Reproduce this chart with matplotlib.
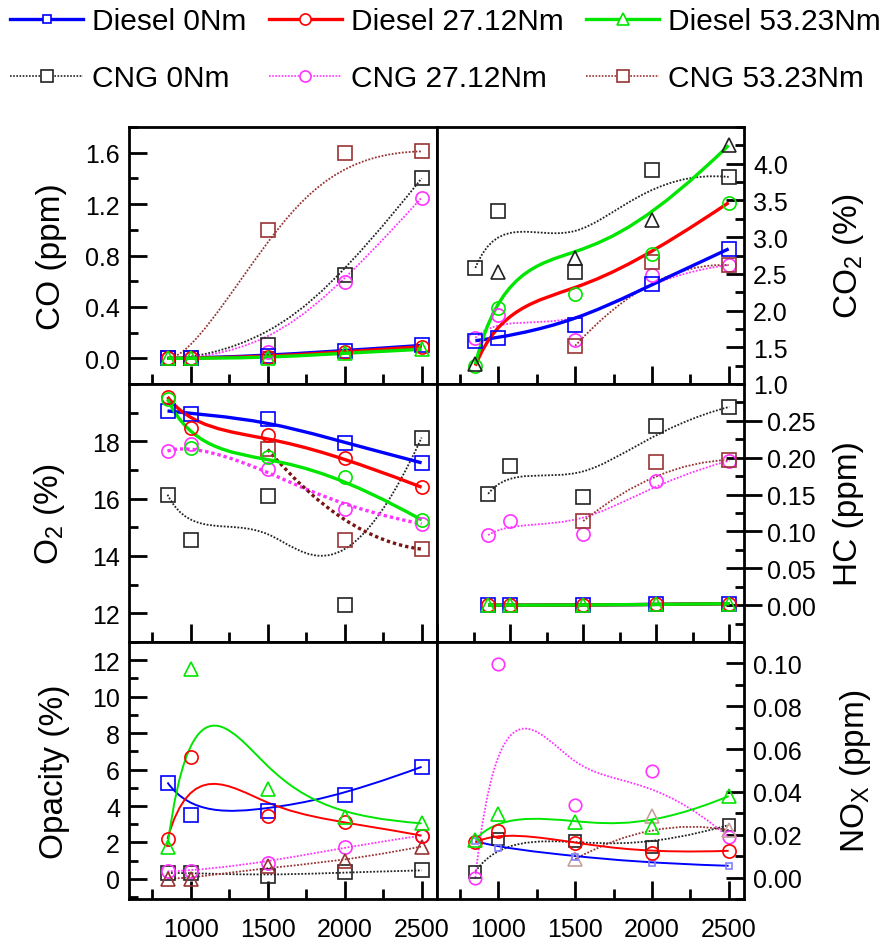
import numpy as np
import matplotlib
matplotlib.use('Agg')
import matplotlib.pyplot as plt
from matplotlib.path import Path
from matplotlib.patches import PathPatch
from matplotlib.lines import Line2D
from matplotlib.ticker import MultipleLocator, FormatStrFormatter

plt.rcParams['font.family'] = 'Liberation Sans'
plt.rcParams['mathtext.fontset'] = 'custom'
plt.rcParams['mathtext.rm'] = 'Liberation Sans'

# engine speed (rpm)
rpm = [850, 1000, 1500, 2000, 2500]
rpm_high = [1500, 2000, 2500]

labels = ['Diesel 0Nm', 'Diesel 27.12Nm', 'Diesel 53.23Nm',
          'CNG 0Nm', 'CNG 27.12Nm', 'CNG 53.23Nm']

# CO (ppm)
co_d0 = [0.0, 0.0, 0.02, 0.06, 0.10]
co_d27 = [0.0, 0.0, 0.01, 0.05, 0.09]
co_d53 = [0.0, 0.0, 0.0, 0.04, 0.07]
co_c0 = [0.0, 0.0, 0.10, 0.65, 1.40]
co_c27 = [0.0, 0.0, 0.05, 0.59, 1.25]
co_c53 = [0.0, 0.0, 1.00, 1.60, 1.61]

# CO2 (%)
co2_d0 = [1.59, 1.63, 1.80, 2.36, 2.84]
co2_d27 = [1.25, 2.03, 2.23, 2.77, 3.47]
co2_d53 = [1.27, 2.53, 2.72, 3.24, 4.25]
co2_c0 = [2.58, 3.36, 2.53, 3.92, 3.82]
co2_c27 = [1.63, 1.94, 1.60, 2.49, 2.62]
co2_c53 = [1.52, 2.66, 2.62]

# O2 (%)
o2_d0 = [19.06, 18.97, 18.79, 17.95, 17.25]
o2_d27 = [19.55, 18.48, 18.21, 17.43, 16.40]
o2_d53 = [19.47, 17.78, 17.46, 16.75, 15.26]
o2_c0 = [16.14, 14.55, 16.11, 12.28, 18.13]
o2_c27 = [17.66, 17.92, 17.04, 15.65, 15.12]
o2_c53 = [17.72, 14.56, 14.24]

# HC (ppm)
hc_d0 = [0.0, 0.0, 0.0, 0.001, 0.002]
hc_d27 = [0.0, 0.0, 0.0, 0.001, 0.002]
hc_d53 = [0.0, 0.0, 0.0, 0.001, 0.002]
hc_c0 = [0.151, 0.189, 0.147, 0.243, 0.269]
hc_c27 = [0.095, 0.114, 0.096, 0.169, 0.196]
hc_c53 = [0.114, 0.194, 0.197]

# Opacity (%)
op_d0 = [5.29, 3.51, 3.73, 4.60, 6.15]
op_d27 = [2.20, 6.69, 3.47, 3.15, 2.38]
op_d53 = [1.78, 11.51, 4.96, 3.38, 3.05]
op_c0 = [0.33, 0.33, 0.15, 0.36, 0.47]
op_c27 = [0.42, 0.44, 0.87, 1.75, 2.38]
op_c53 = [0.02, 0.02, 0.69, 0.96, 1.78]

# NOx (ppm)
nox_d0 = [0.017, 0.014, 0.0098, 0.0067, 0.0055]
nox_d27 = [0.0164, 0.0219, 0.0161, 0.0113, 0.0125]
nox_d53 = [0.0177, 0.0297, 0.0261, 0.0234, 0.038]
nox_c0 = [0.0028, 0.018, 0.0169, 0.0145, 0.0245]
nox_c27 = [0.0, 0.0996, 0.034, 0.0496, 0.0188]
nox_c53 = [0.0086, 0.0286, 0.0222]

BLUE, RED, GREEN = '#0000ff', '#ff0000', '#00e600'
BLACK, MAGENTA, BROWN = '#222222', '#ff33ff', '#993333'
DOT = (0, (1.0, 0.9))


def insert_knot(U, P, u, p):
    k = int(np.searchsorted(U, u, side='right')) - 1
    Q = []
    for i in range(len(P) + 1):
        if i <= k - p:
            Q.append(P[i])
        elif i <= k:
            a = (u - U[i]) / (U[i + p] - U[i])
            Q.append((1 - a) * P[i - 1] + a * P[i])
        else:
            Q.append(P[i - 1])
    return U[:k + 1] + [u] + U[k + 1:], Q


def bspline_path(x, y):
    # clamped B-spline with the points as control points, as Bezier pieces
    P = [np.array(v, dtype=float) for v in zip(x, y)]
    n = len(P)
    if n == 2:
        return Path(P, [Path.MOVETO, Path.LINETO])
    p = min(3, n - 1)
    inner = list(np.linspace(0, 1, n - p + 1)[1:-1])
    U = [0.0] * (p + 1) + inner + [1.0] * (p + 1)
    for u in inner:
        for _ in range(p - 1):
            U, P = insert_knot(U, P, u, p)
    code = Path.CURVE4 if p == 3 else Path.CURVE3
    return Path(P, [Path.MOVETO] + [code] * (len(P) - 1))


def series(ax, x, y, color, ls, lw, marker, mec=None, ms=9.5, z=2):
    ax.add_patch(PathPatch(bspline_path(x, y), fill=False, edgecolor=color,
                           linestyle=ls, linewidth=lw, zorder=z))
    ax.plot(x, y, ls='none', marker=marker, ms=ms, mfc='none',
            mec=mec or color, mew=1.2, zorder=4)


def style(ax, side, ylabel, yticks, ylim, fmt, minor, xlim=(600, 2600),
          xlabels=False, inout=False, labx=-0.2):
    for s in ax.spines.values():
        s.set_linewidth(2)
    ax.set_xlim(*xlim)
    ax.set_ylim(*ylim)
    ax.xaxis.set_major_locator(MultipleLocator(500))
    ax.xaxis.set_minor_locator(MultipleLocator(250))
    ax.set_yticks(yticks)
    ax.yaxis.set_minor_locator(MultipleLocator(minor))
    ax.yaxis.set_major_formatter(FormatStrFormatter(fmt))
    ax.tick_params(axis='x', which='both', direction='in', top=False,
                   bottom=True, width=2, labelbottom=xlabels,
                   labelsize=18, pad=13)
    ax.tick_params(axis='x', which='major', length=13)
    ax.tick_params(axis='x', which='minor', length=7)
    left = side == 'left'
    ax.tick_params(axis='y', which='both', left=left, right=not left,
                   labelleft=left, labelright=not left, width=2,
                   labelsize=18)
    if inout:
        ax.tick_params(axis='y', which='major', direction='inout',
                       length=26, pad=3.5)
    else:
        ax.tick_params(axis='y', which='major', direction='in',
                       length=13, pad=6.5)
    ax.tick_params(axis='y', which='minor', direction='in', length=6.5)
    if not left:
        ax.yaxis.set_label_position('right')
    ax.set_ylabel(ylabel, fontsize=24)
    ax.yaxis.set_label_coords(labx, 0.5)


fig = plt.figure(figsize=(8.89, 9.45), dpi=100)
W, H = 889, 945
cols = [(129, 437), (437, 744)]
rows = [(128, 385), (385, 643), (643, 900)]
axs = [[fig.add_axes([c0 / W, 1 - r1 / H, (c1 - c0) / W, (r1 - r0) / H])
        for (c0, c1) in cols] for (r0, r1) in rows]

thick, thin = 2.4, 1.3

# CO
ax = axs[0][0]
series(ax, rpm, co_c0, BLACK, DOT, thin, 's')
series(ax, rpm, co_c27, MAGENTA, DOT, thin, 'o')
series(ax, rpm, co_c53, BROWN, DOT, thin, 's')
series(ax, rpm, co_d0, BLUE, '-', thick, 's')
series(ax, rpm, co_d27, RED, '-', thick, 'o')
series(ax, rpm, co_d53, GREEN, '-', thick, '^')
style(ax, 'left', 'CO (ppm)', [0.0, 0.4, 0.8, 1.2, 1.6], (-0.2, 1.8),
      '%.1f', 0.2)

# CO2
ax = axs[0][1]
series(ax, rpm, co2_c0, BLACK, DOT, thin, 's')
series(ax, rpm, co2_c27, MAGENTA, DOT, thin, 'o')
series(ax, rpm_high, co2_c53, BROWN, DOT, thin, 's')
series(ax, rpm, co2_d0, BLUE, '-', thick, 's')
series(ax, rpm, co2_d27, RED, '-', thick, 'o', mec=GREEN)
series(ax, rpm, co2_d53, GREEN, '-', thick, '^', mec=BLACK, ms=10.5)
style(ax, 'right', r'CO$_\mathregular{2}$ (%)',
      [1.0, 1.5, 2.0, 2.5, 3.0, 3.5, 4.0], (1.0, 4.5), '%.1f', 0.25,
      labx=1.285)

# O2
ax = axs[1][0]
series(ax, rpm, o2_c0, BLACK, DOT, thin, 's')
series(ax, rpm, o2_c27, MAGENTA, DOT, 2.4, 'o')
series(ax, rpm_high, o2_c53, '#7a1414', DOT, 2.4, 's', mec=BROWN)
series(ax, rpm, o2_d0, BLUE, '-', thick, 's')
series(ax, rpm, o2_d27, RED, '-', thick, 'o')
series(ax, rpm, o2_d53, GREEN, '-', thick, 'o')
style(ax, 'left', r'O$_\mathregular{2}$ (%)', [12, 14, 16, 18], (11, 20),
      '%d', 1)

# HC
ax = axs[1][1]
series(ax, rpm, hc_c0, BLACK, DOT, thin, 's')
series(ax, rpm, hc_c27, MAGENTA, DOT, thin, 'o')
series(ax, rpm_high, hc_c53, BROWN, DOT, thin, 's')
series(ax, rpm, hc_d0, BLUE, '-', thick, 's')
series(ax, rpm, hc_d27, RED, '-', thick, 'o')
series(ax, rpm, hc_d53, GREEN, '-', thick, '^')
style(ax, 'right', 'HC (ppm)', [0.0, 0.05, 0.10, 0.15, 0.20, 0.25],
      (-0.05, 0.30), '%.2f', 0.025, xlim=(500, 2600), inout=True,
      labx=1.29)

# Opacity
ax = axs[2][0]
series(ax, rpm, op_c0, BLACK, DOT, thin, 's')
series(ax, rpm, op_c27, MAGENTA, DOT, thin, 'o')
series(ax, rpm, op_c53, BROWN, DOT, thin, '^')
series(ax, rpm, op_d0, BLUE, '-', 1.4, 's')
series(ax, rpm, op_d27, RED, '-', 1.4, 'o')
series(ax, rpm, op_d53, GREEN, '-', 1.4, '^')
style(ax, 'left', 'Opacity (%)', [0, 2, 4, 6, 8, 10, 12], (-1.1, 13),
      '%d', 1, xlabels=True, labx=-0.19)

# NOx
ax = axs[2][1]
series(ax, rpm, nox_c0, BLACK, DOT, thin, 's', ms=8)
series(ax, rpm, nox_c27, MAGENTA, DOT, thin, 'o', ms=9)
series(ax, rpm_high, nox_c53, BROWN, DOT, thin, '^', mec='#c9a0a0')
series(ax, rpm, nox_d0, BLUE, '-', 1.4, 's', ms=5, mec='#8080ff')
series(ax, rpm, nox_d27, RED, '-', 1.4, 'o')
series(ax, rpm, nox_d53, GREEN, '-', 1.4, '^', ms=10.5)
style(ax, 'right', r'NO$_\mathregular{X}$ (ppm)',
      [0.0, 0.02, 0.04, 0.06, 0.08, 0.10], (-0.01, 0.11), '%.2f', 0.01,
      xlabels=True, labx=1.305)

# legend
def handle(color, ls, lw, marker, ms):
    return Line2D([], [], color=color, ls=ls, lw=lw, marker=marker, ms=ms,
                  mfc='white', mec=color, mew=1.2)

hd = [handle(BLUE, '-', 2.4, 's', 6), handle(RED, '-', 2.4, 'o', 8),
      handle(GREEN, '-', 2.4, '^', 8), handle(BLACK, DOT, 1.2, 's', 8),
      handle(MAGENTA, DOT, 1.2, 'o', 8), handle(BROWN, DOT, 1.2, 's', 8)]
order = [0, 3, 1, 4, 2, 5]
fig.legend([hd[i] for i in order], [labels[i] for i in order], ncol=3,
           loc='upper left', bbox_to_anchor=(10 / W, 1 - 8 / H),
           frameon=False, fontsize=21.5, handlelength=2.45,
           handletextpad=0.3, columnspacing=0.75, labelspacing=0.98,
           borderpad=0, borderaxespad=0)

fig.savefig('out.png', dpi=100)
